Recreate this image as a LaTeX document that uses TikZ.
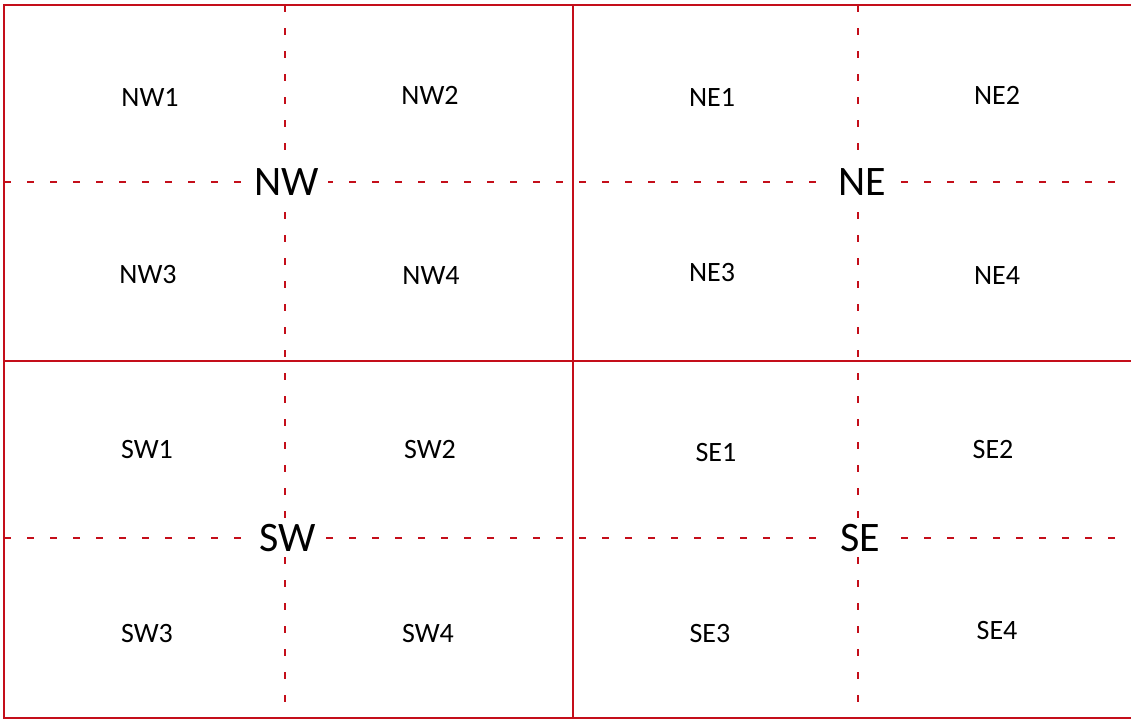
\documentclass[tikz,border=0pt]{standalone}
\usepackage{fontspec}
\setmainfont{Carlito}
\definecolor{quadred}{RGB}{196,14,26}
\tikzset{
  wall/.style={draw=quadred, line width=2.6pt},
  split/.style={draw=quadred, line width=2.4pt, dash pattern=on 7pt off 16pt},
  cell/.style={font=\fontsize{28}{28}\selectfont},
  quad/.style={font=\fontsize{42}{42}\selectfont, fill=white, inner xsep=9pt, inner ysep=3pt}
}
\begin{document}
\begin{tikzpicture}[x=1pt, y=-1pt]
\useasboundingbox (0,0) rectangle (1131,720);
\clip (0,0) rectangle (1131,720);
% dashed sub-division lines
\draw[split] (285,5) -- (285,718);
\draw[split] (858,5) -- (858,718);
\draw[split] (4,182) -- (1134,182);
\draw[split] (4,538) -- (1134,538);
% quadrant labels
\node[quad] (nw) at (287,182) {NW};
\node[quad] (ne) at (862,182) {NE};
\node[quad] (sw) at (288,538) {SW};
\node[quad] (se) at (860,538) {SE};
% solid quadrant lines
\draw[wall] (4,5) rectangle (1134,718);
\draw[wall] (573,5) -- (573,718);
\draw[wall] (4,361) -- (1134,361);
% cell labels
\foreach \name/\x/\y in {NW1/150/97, NW2/430/95, NE1/712/97, NE2/997/95,
    NW3/148/275, NW4/431/276, NE3/712/273, NE4/997/276,
    SW1/147/450, SW2/430/450, SE1/716/453, SE2/993/450,
    SW3/147/633, SW4/428/633, SE3/710/634, SE4/997/631}
  \node[cell] (\name) at (\x,\y) {\name};
\end{tikzpicture}
\end{document}
